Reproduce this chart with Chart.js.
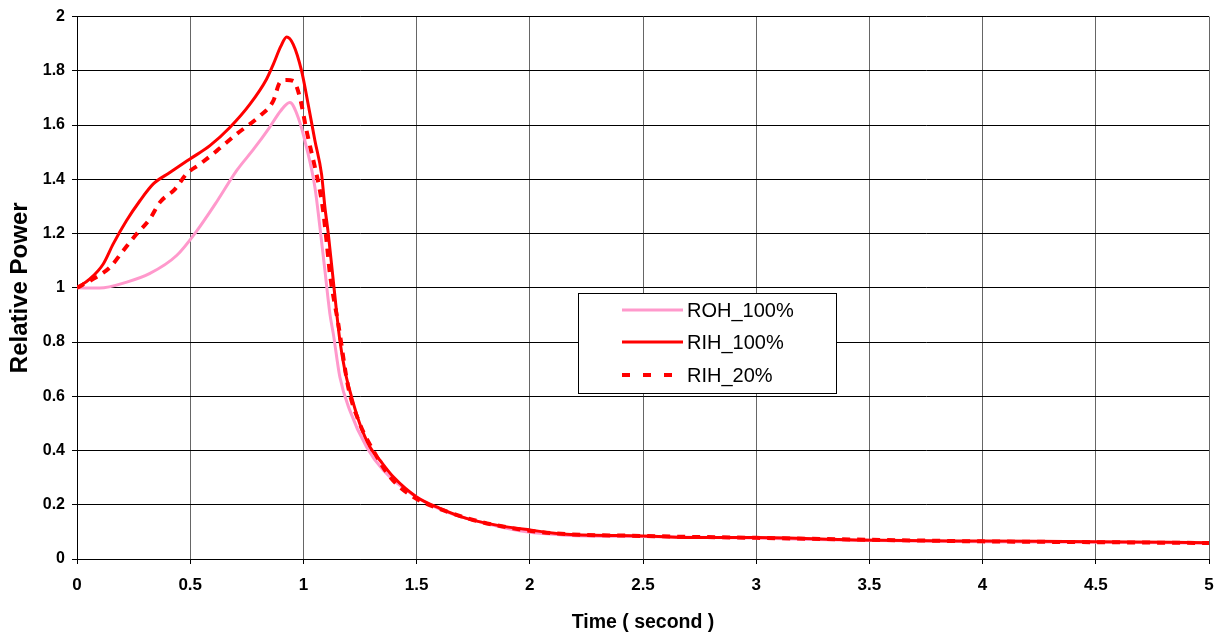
<!DOCTYPE html>
<html>
<head>
<meta charset="utf-8">
<title>Relative Power vs Time</title>
<script src="https://cdn.jsdelivr.net/npm/chart.js@4/dist/chart.umd.min.js"></script>
<style>
  html, body { margin: 0; padding: 0; background: #fff; }
  #wrap { width: 1232px; height: 637px; }
</style>
</head>
<body>
<div id="wrap"><canvas id="c" width="1232" height="637"></canvas></div>
<script>
// Series: time (s) and relative power
const seriesNames = ['ROH_100%', 'RIH_100%', 'RIH_20%'];

const timeRoh100 = [0, 0.10, 0.22, 0.32, 0.44, 0.53, 0.62, 0.705, 0.78, 0.85, 0.90, 0.94, 0.977, 1.014, 1.051, 1.073, 1.095, 1.117, 1.132, 1.161, 1.205, 1.279, 1.352, 1.485, 1.632, 1.809, 1.985, 2.16, 2.5, 3.0, 3.44, 4.0, 4.5, 5.0];
const powerRoh100 = [1.0, 0.999, 1.021, 1.052, 1.119, 1.211, 1.321, 1.432, 1.511, 1.591, 1.653, 1.683, 1.628, 1.517, 1.37, 1.223, 1.064, 0.904, 0.831, 0.671, 0.548, 0.413, 0.328, 0.236, 0.174, 0.131, 0.10, 0.088, 0.083, 0.077, 0.069, 0.064, 0.062, 0.058];

const timeRih100 = [0, 0.057, 0.116, 0.16, 0.219, 0.278, 0.337, 0.41, 0.499, 0.587, 0.675, 0.764, 0.837, 0.867, 0.90, 0.926, 0.955, 0.992, 1.021, 1.051, 1.08, 1.095, 1.11, 1.135, 1.161, 1.183, 1.213, 1.249, 1.294, 1.338, 1.397, 1.5, 1.603, 1.72, 1.853, 2.0, 2.162, 2.5, 2.75, 3.0, 3.44, 4.0, 4.5, 5.0];
const powerRih100 = [1.0, 1.033, 1.088, 1.162, 1.248, 1.321, 1.383, 1.425, 1.475, 1.524, 1.591, 1.677, 1.769, 1.824, 1.89, 1.925, 1.898, 1.80, 1.677, 1.542, 1.42, 1.297, 1.199, 1.002, 0.806, 0.696, 0.597, 0.499, 0.413, 0.364, 0.303, 0.229, 0.187, 0.15, 0.125, 0.107, 0.091, 0.085, 0.079, 0.079, 0.070, 0.066, 0.064, 0.060];

const timeRih20 = [0, 0.072, 0.146, 0.204, 0.264, 0.322, 0.366, 0.433, 0.484, 0.543, 0.617, 0.705, 0.808, 0.867, 0.896, 0.926, 0.955, 0.985, 1.014, 1.051, 1.073, 1.087, 1.102, 1.117, 1.154, 1.198, 1.249, 1.308, 1.382, 1.485, 1.617, 1.75, 1.926, 2.1, 2.5, 3.0, 3.5, 4.0, 4.5, 5.0];
const powerRih20 = [1.0, 1.033, 1.076, 1.137, 1.199, 1.254, 1.315, 1.364, 1.42, 1.456, 1.505, 1.567, 1.634, 1.689, 1.757, 1.766, 1.763, 1.70, 1.579, 1.444, 1.358, 1.285, 1.174, 1.052, 0.867, 0.634, 0.499, 0.401, 0.303, 0.229, 0.18, 0.144, 0.113, 0.095, 0.085, 0.078, 0.071, 0.065, 0.062, 0.059];

// Axis ticks
const xTicks = [0, 0.5, 1, 1.5, 2, 2.5, 3, 3.5, 4, 4.5, 5];
const yTicks = [0, 0.2, 0.4, 0.6, 0.8, 1, 1.2, 1.4, 1.6, 1.8, 2];

const toPoints = (xs, ys) => xs.map((x, i) => ({ x: x, y: ys[i] }));

const FONT = "'Liberation Sans', Arial, sans-serif";

// Boxed legend placed inside the plot area
const boxLegend = {
  id: 'boxLegend',
  afterDraw(chart) {
    const ctx = chart.ctx;
    const x0 = 578.5, y0 = 293.5, w = 258, h = 100;
    ctx.save();
    ctx.fillStyle = '#fff';
    ctx.fillRect(x0, y0, w, h);
    ctx.strokeStyle = '#000';
    ctx.lineWidth = 1;
    ctx.strokeRect(x0, y0, w, h);
    const rows = [310, 342, 375];
    chart.data.datasets.forEach((ds, i) => {
      const y = rows[i];
      ctx.beginPath();
      ctx.strokeStyle = ds.borderColor;
      ctx.lineWidth = ds.borderWidth;
      ctx.setLineDash(ds.legendDash || []);
      ctx.moveTo(622, y);
      ctx.lineTo(683, y);
      ctx.stroke();
      ctx.setLineDash([]);
      ctx.fillStyle = '#000';
      ctx.font = '20px ' + FONT;
      ctx.textBaseline = 'middle';
      ctx.textAlign = 'left';
      ctx.fillText(ds.label, 687, y + 1);
    });
    ctx.restore();
  }
};

new Chart(document.getElementById('c'), {
  type: 'line',
  data: {
    datasets: [
      {
        label: seriesNames[0],
        data: toPoints(timeRoh100, powerRoh100),
        borderColor: '#FF99CC',
        borderWidth: 3,
        order: 3
      },
      {
        label: seriesNames[1],
        data: toPoints(timeRih100, powerRih100),
        borderColor: '#FF0000',
        borderWidth: 3,
        order: 2
      },
      {
        label: seriesNames[2],
        data: toPoints(timeRih20, powerRih20),
        borderColor: '#FF0000',
        borderWidth: 4,
        borderDash: [8, 7],
        legendDash: [8, 13],
        order: 1
      }
    ]
  },
  options: {
    responsive: false,
    animation: false,
    events: [],
    layout: { padding: { left: 0, right: 23, top: 15, bottom: 0 } },
    elements: {
      point: { radius: 0 },
      line: { cubicInterpolationMode: 'monotone', fill: false, borderCapStyle: 'butt' }
    },
    plugins: {
      legend: { display: false },
      tooltip: { enabled: false }
    },
    scales: {
      x: {
        type: 'linear',
        min: 0,
        max: 5,
        afterBuildTicks: (s) => { s.ticks = xTicks.map(v => ({ value: v })); },
        afterFit: (s) => { s.height = 78; },
        grid: { color: '#666', lineWidth: 1, tickLength: 5, drawTicks: true, tickColor: '#000' },
        border: { color: '#000', width: 1 },
        ticks: {
          color: '#000',
          font: { family: FONT, size: 17, weight: 'bold' },
          padding: 11,
          maxRotation: 0,
          callback: (v) => String(v)
        },
        title: {
          display: true,
          text: 'Time ( second )',
          color: '#000',
          font: { family: FONT, size: 19.5, weight: 'bold' },
          padding: { top: 4, bottom: 3 }
        }
      },
      y: {
        type: 'linear',
        min: 0,
        max: 2,
        afterBuildTicks: (s) => { s.ticks = yTicks.map(v => ({ value: v })); },
        afterFit: (s) => { s.width = 77; },
        grid: { color: '#000', lineWidth: 1, tickLength: 5, tickColor: '#000' },
        border: { color: '#000', width: 1 },
        ticks: {
          color: '#000',
          font: { family: FONT, size: 16, weight: 'bold' },
          padding: 7,
          callback: (v) => String(v)
        },
        title: {
          display: true,
          text: 'Relative Power',
          color: '#000',
          font: { family: FONT, size: 24, weight: 'bold' },
          padding: { top: 6, bottom: 2 }
        }
      }
    }
  },
  plugins: [boxLegend]
});
</script>
</body>
</html>
